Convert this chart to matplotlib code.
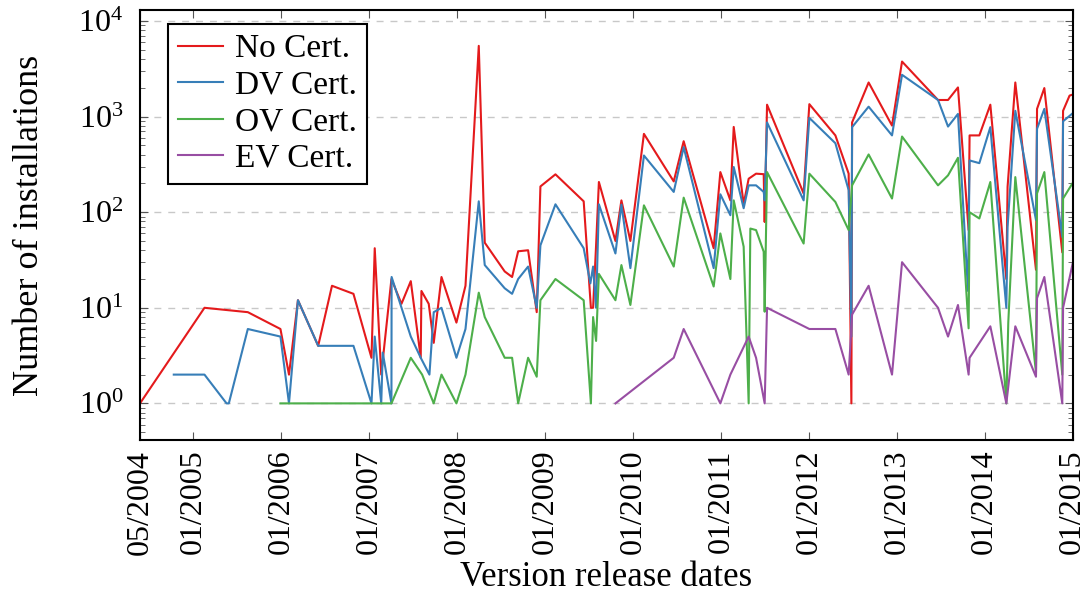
import matplotlib
matplotlib.use('Agg')
import matplotlib.pyplot as plt
from matplotlib.ticker import LogLocator, NullFormatter

plt.rcParams['font.family'] = 'Liberation Serif'
plt.rcParams['mathtext.fontset'] = 'stix'

# release dates (decimal years) and number of installations per certificate type
no_dates = [2004.395, 2005.128, 2005.621, 2005.992, 2006.089, 2006.191, 2006.421, 2006.578,
            2006.822, 2007.027, 2007.064, 2007.138, 2007.254, 2007.368, 2007.474, 2007.587,
            2007.595, 2007.678, 2007.735, 2007.823, 2007.993, 2008.096, 2008.247, 2008.315,
            2008.542, 2008.626, 2008.695, 2008.808, 2008.906, 2008.948, 2009.119, 2009.440,
            2009.522, 2009.547, 2009.581, 2009.613, 2009.801, 2009.869, 2009.971, 2010.125,
            2010.464, 2010.577, 2010.918, 2010.994, 2011.108, 2011.146, 2011.259, 2011.316,
            2011.400, 2011.487, 2011.498, 2011.525, 2011.941, 2012.006, 2012.302, 2012.453,
            2012.484, 2012.492, 2012.680, 2012.946, 2013.060, 2013.469, 2013.583, 2013.696,
            2013.817, 2013.828, 2013.939, 2014.064, 2014.246, 2014.260, 2014.348, 2014.583,
            2014.595, 2014.678, 2014.882, 2014.891, 2014.965, 2015.000]
no_vals = [1, 10, 9, 6, 2, 12, 4, 17,
           14, 3, 42, 2, 20, 11, 19, 3,
           15, 11, 4.3, 21, 7, 17, 5500, 48,
           24, 21, 39, 40, 9, 186, 249, 130,
           10, 10, 45, 207, 50, 133, 50, 660,
           210, 553, 42, 263, 133, 780, 122, 224,
           253, 250, 79, 1333, 157, 1350, 636, 253,
           1, 870, 2276, 806, 3768, 1493, 1493, 2020,
           65, 636, 636, 1333, 20, 184, 2276, 25,
           1205, 1990, 38, 1150, 1660, 1700]

dv_dates = [2004.779, 2005.128, 2005.379, 2005.405, 2005.621, 2005.992, 2006.089, 2006.191,
            2006.421, 2006.822, 2007.027, 2007.064, 2007.138, 2007.155, 2007.254, 2007.256,
            2007.474, 2007.587, 2007.686, 2007.735, 2007.823, 2007.993, 2008.096, 2008.247,
            2008.315, 2008.542, 2008.626, 2008.695, 2008.808, 2008.906, 2008.948, 2009.119,
            2009.440, 2009.516, 2009.547, 2009.581, 2009.613, 2009.801, 2009.869, 2009.971,
            2010.125, 2010.464, 2010.577, 2010.918, 2010.994, 2011.108, 2011.146, 2011.259,
            2011.316, 2011.400, 2011.487, 2011.498, 2011.525, 2011.941, 2012.006, 2012.302,
            2012.453, 2012.484, 2012.492, 2012.680, 2012.946, 2013.060, 2013.469, 2013.583,
            2013.696, 2013.810, 2013.828, 2013.939, 2014.064, 2014.246, 2014.260, 2014.348,
            2014.583, 2014.595, 2014.678, 2014.882, 2014.891, 2015.000]
dv_vals = [2, 2, 1, 1, 6, 5, 1, 12,
           4, 4, 1, 5, 1, 3.4, 1, 21,
           5, 3, 2, 9, 10, 3, 6, 130,
           28, 16, 14, 20, 27, 10, 45, 121,
           42, 18, 27, 10, 121, 37, 120, 26,
           392, 163, 480, 26, 154, 93, 297, 110,
           191, 191, 163, 133, 870, 133, 970, 527,
           170, 5, 776, 1271, 636, 2738, 1493, 787,
           1067, 15, 348, 326, 776, 10, 70, 1150,
           83, 745, 1205, 55, 894, 1083]

ov_dates = [2005.992, 2007.254, 2007.474, 2007.603, 2007.735, 2007.823, 2007.993, 2008.096,
            2008.247, 2008.315, 2008.542, 2008.626, 2008.695, 2008.808, 2008.906, 2008.948,
            2009.119, 2009.440, 2009.522, 2009.547, 2009.581, 2009.613, 2009.801, 2009.869,
            2009.971, 2010.125, 2010.464, 2010.577, 2010.918, 2010.994, 2011.108, 2011.146,
            2011.259, 2011.316, 2011.335, 2011.400, 2011.487, 2011.498, 2011.525, 2011.941,
            2012.006, 2012.302, 2012.453, 2012.492, 2012.680, 2012.946, 2013.060, 2013.469,
            2013.583, 2013.696, 2013.817, 2013.828, 2013.939, 2014.064, 2014.246, 2014.268,
            2014.348, 2014.583, 2014.595, 2014.678, 2014.882, 2014.891, 2015.000]
ov_vals = [1, 1, 3, 2, 1, 2, 1, 2,
           14.4, 8, 3, 3, 1, 3, 1.9, 12,
           20, 12, 1, 8, 4.5, 22.6, 12, 28,
           10.7, 118, 27, 142, 16.7, 60, 20, 133,
           43.6, 1, 67.5, 65, 38.6, 9.1, 263, 47,
           253, 128, 65, 191, 402, 139, 619, 191,
           243, 371, 6.1, 100, 86, 207, 1, 7,
           233, 2.1, 157, 263, 2, 139, 202]

ev_dates = [2009.801, 2010.464, 2010.577, 2010.994, 2011.108, 2011.316, 2011.400, 2011.498,
            2011.525, 2012.006, 2012.302, 2012.453, 2012.492, 2012.680, 2012.946, 2013.060,
            2013.469, 2013.583, 2013.696, 2013.817, 2013.828, 2014.064, 2014.246, 2014.348,
            2014.583, 2014.595, 2014.678, 2014.882, 2014.891, 2015.000]
ev_vals = [1, 3, 6, 1, 2, 5, 3, 1,
           10, 6, 6, 2, 8.5, 17, 2, 30,
           10, 5, 10.7, 2, 3, 6.4, 1, 6.4,
           1.9, 12.6, 21, 1, 10, 29]

series = [("No Cert.", no_dates, no_vals, '#e41a1c'),
          ("DV Cert.", dv_dates, dv_vals, '#377eb8'),
          ("OV Cert.", ov_dates, ov_vals, '#4daf4a'),
          ("EV Cert.", ev_dates, ev_vals, '#984ea3')]

tick_pos = [2004.395] + list(range(2005, 2016))
tick_labels = ["05/2004"] + ["01/%d" % y for y in range(2005, 2016)]

fig = plt.figure(figsize=(10.87, 5.97), dpi=100)
ax = fig.add_axes([0.1288, 0.263, 0.858, 0.72])

for name, d, v, c in series:
    ax.plot(d, v, color=c, lw=1.5, label=name)

ax.set_yscale('log')
ax.set_ylim(0.414, 13000)
ax.set_xlim(2004.395, 2015.0)
ax.yaxis.set_major_locator(LogLocator(base=10, numticks=10))
ax.yaxis.set_minor_locator(LogLocator(base=10, subs=range(2, 10), numticks=20))
ax.yaxis.set_minor_formatter(NullFormatter())
ax.set_xticks(tick_pos)
ax.set_xticklabels(tick_labels, rotation=90)

ax.grid(True, axis='y', which='major', color='#c8c8c8', linestyle=(0, (5, 5)), lw=1.0)
ax.tick_params(which='both', direction='in', top=True, right=True, labelsize=23,
               color='#555555')
ax.tick_params(which='major', length=6)
ax.tick_params(axis='x', which='major', pad=7)
ax.tick_params(axis='y', which='major', pad=12)
ax.tick_params(which='minor', length=3.5)
for s in ax.spines.values():
    s.set_linewidth(1.5)

ax.set_xlabel("Version release dates", fontsize=25, va='baseline')
ax.xaxis.set_label_coords(0.5, -0.34)
ax.set_ylabel("Number of installations", fontsize=26, va='center')
ax.yaxis.set_label_coords(-0.118, 0.5)

leg = ax.legend(loc='upper left', bbox_to_anchor=(0.03, 0.968), borderaxespad=0,
                fontsize=24, fancybox=False, edgecolor='black', framealpha=1,
                handlelength=1.35, handletextpad=0.35, borderpad=0.3, labelspacing=0.18)
leg.get_frame().set_linewidth(1.5)

fig.savefig("out.png", dpi=100)
